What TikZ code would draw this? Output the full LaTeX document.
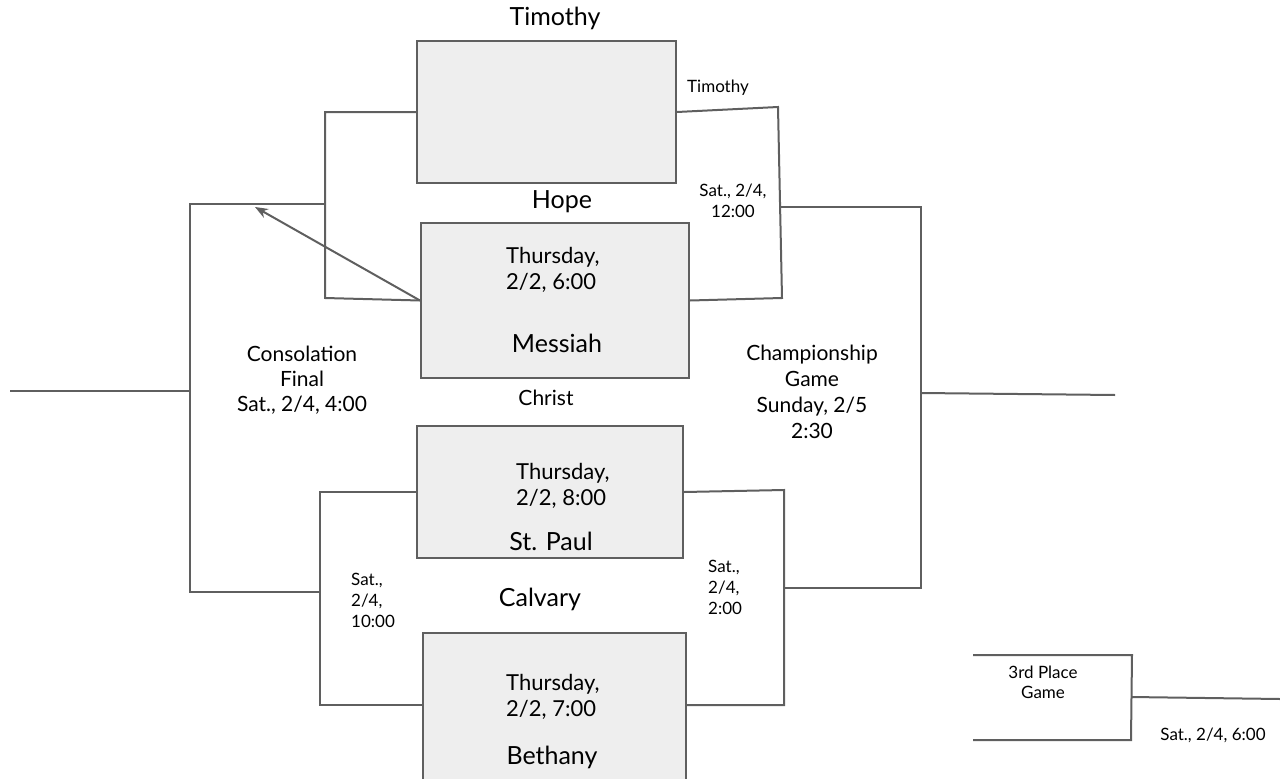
\documentclass[tikz,border=0pt]{standalone}
\usepackage{fontspec}
\setmainfont{Lato}
\usetikzlibrary{arrows.meta}
\definecolor{lncol}{HTML}{5F5F5F}
\definecolor{boxcol}{HTML}{EEEEEE}
\tikzset{
  ln/.style={draw=lncol,line width=2pt},
  team/.style={draw=lncol,fill=boxcol,line width=2pt,inner sep=0pt,anchor=north west},
  big/.style={font=\fontsize{25}{29}\selectfont,inner sep=0pt},
  mid/.style={font=\fontsize{21}{25}\selectfont,align=center,inner sep=0pt},
  midl/.style={font=\fontsize{22}{26}\selectfont,align=left,inner sep=0pt,anchor=north west},
  sml/.style={font=\fontsize{17}{21}\selectfont,align=left,inner sep=0pt},
  tiny/.style={font=\fontsize{17}{20}\selectfont,align=center,inner sep=0pt},
}
\begin{document}
\begin{tikzpicture}[x=1pt,y=-1pt]
\useasboundingbox (0,0) rectangle (1280,779);
% boxes
\node[team,minimum width=259pt,minimum height=142pt] (b1) at (416,40) {};
\node[team,minimum width=268pt,minimum height=155pt] (b2) at (420,222) {};
\node[team,minimum width=266pt,minimum height=132pt] (b3) at (416,425) {};
\node[team,minimum width=263pt,minimum height=166pt] (b4) at (422,632) {};
% box texts
\node[midl] (t2) at (506,247) {Thursday,\\2/2, 6:00};
\node[big] (n2) at (557,343) {Messiah};
\node[midl] (t3) at (516,463) {Thursday,\\2/2, 8:00};
\node[big] (n3) at (551,541) {St. Paul};
\node[midl] (t4) at (506,674) {Thursday,\\2/2, 7:00};
\node[big] (n4) at (552,757) {Bethany};
% team names
\node[big] (n1) at (555,18) {Timothy};
\node[big] (hope) at (562,202) {Hope};
\node[mid] (christ) at (546,398) {Christ};
\node[big] (calv) at (540,599) {Calvary};
% labels
\node[sml] (wt) at (718,88) {Timothy};
\node[sml,align=center] (s12) at (733,201) {Sat., 2/4,\\12:00};
\node[mid,font=\fontsize{21}{26}\selectfont] (champ) at (812,392) {Championship\\Game\\Sunday, 2/5\\2:30};
\node[mid] (cons) at (302,380) {Consolation\\Final\\Sat., 2/4, 4:00};
\node[sml,anchor=west] (s10) at (351,600) {Sat.,\\2/4,\\10:00};
\node[sml,anchor=west] (s2) at (708,587) {Sat.,\\2/4,\\2:00};
\node[tiny] (third) at (1043,682) {3rd Place\\Game};
\node[tiny] (s6) at (1213,735) {Sat., 2/4, 6:00};
% coordinates
\coordinate (b4w) at (422,705);
\coordinate (b4e) at (685,705);
\coordinate (ul) at (325,298);
\coordinate (ulm) at (325,204);
\coordinate (cl) at (190,204);
\coordinate (cb) at (190,592);
\coordinate (llm) at (320,592);
\coordinate (ll) at (320,705);
\coordinate (lout) at (10,391);
\coordinate (lin) at (190,391);
\coordinate (ur1) at (778,107);
\coordinate (ur2) at (782,298);
\coordinate (urm) at (781,207);
\coordinate (cr1) at (921,207);
\coordinate (cr2) at (921,588);
\coordinate (crm) at (921,393);
\coordinate (rout) at (1115,395);
\coordinate (lr1) at (784,490);
\coordinate (lr2) at (784,705);
\coordinate (lrm) at (784,588);
\coordinate (tp1) at (973,655);
\coordinate (tp2) at (1132,655);
\coordinate (tp3) at (1131,740);
\coordinate (tp4) at (973,740);
\coordinate (tpm) at (1131,697);
\coordinate (tpout) at (1280,699);
\coordinate (arr) at (255,207);
% left brackets
\draw[ln] (b1.west) -| (ul) -- (b2.west);
\draw[ln] (ulm) -- (cl) -- (cb) -- (llm);
\draw[ln] (b3.west) -| (ll) -- (b4w);
\draw[ln] (lin) -- (lout);
% right brackets
\draw[ln] (b1.east) -- (ur1) -- (ur2) -- (b2.east);
\draw[ln] (urm) -- (cr1) -- (cr2) -- (lrm);
\draw[ln] (crm) -- (rout);
\draw[ln] (b3.east) -- (lr1) -- (lr2) -- (b4e);
% third place
\draw[ln] (tp1) -- (tp2) -- (tp3) -- (tp4);
\draw[ln] (tpm) -- (tpout);
% arrow
\draw[ln,-{Stealth[length=13pt,width=10pt]}] (b2.west) -- (arr);
\end{tikzpicture}
\end{document}
